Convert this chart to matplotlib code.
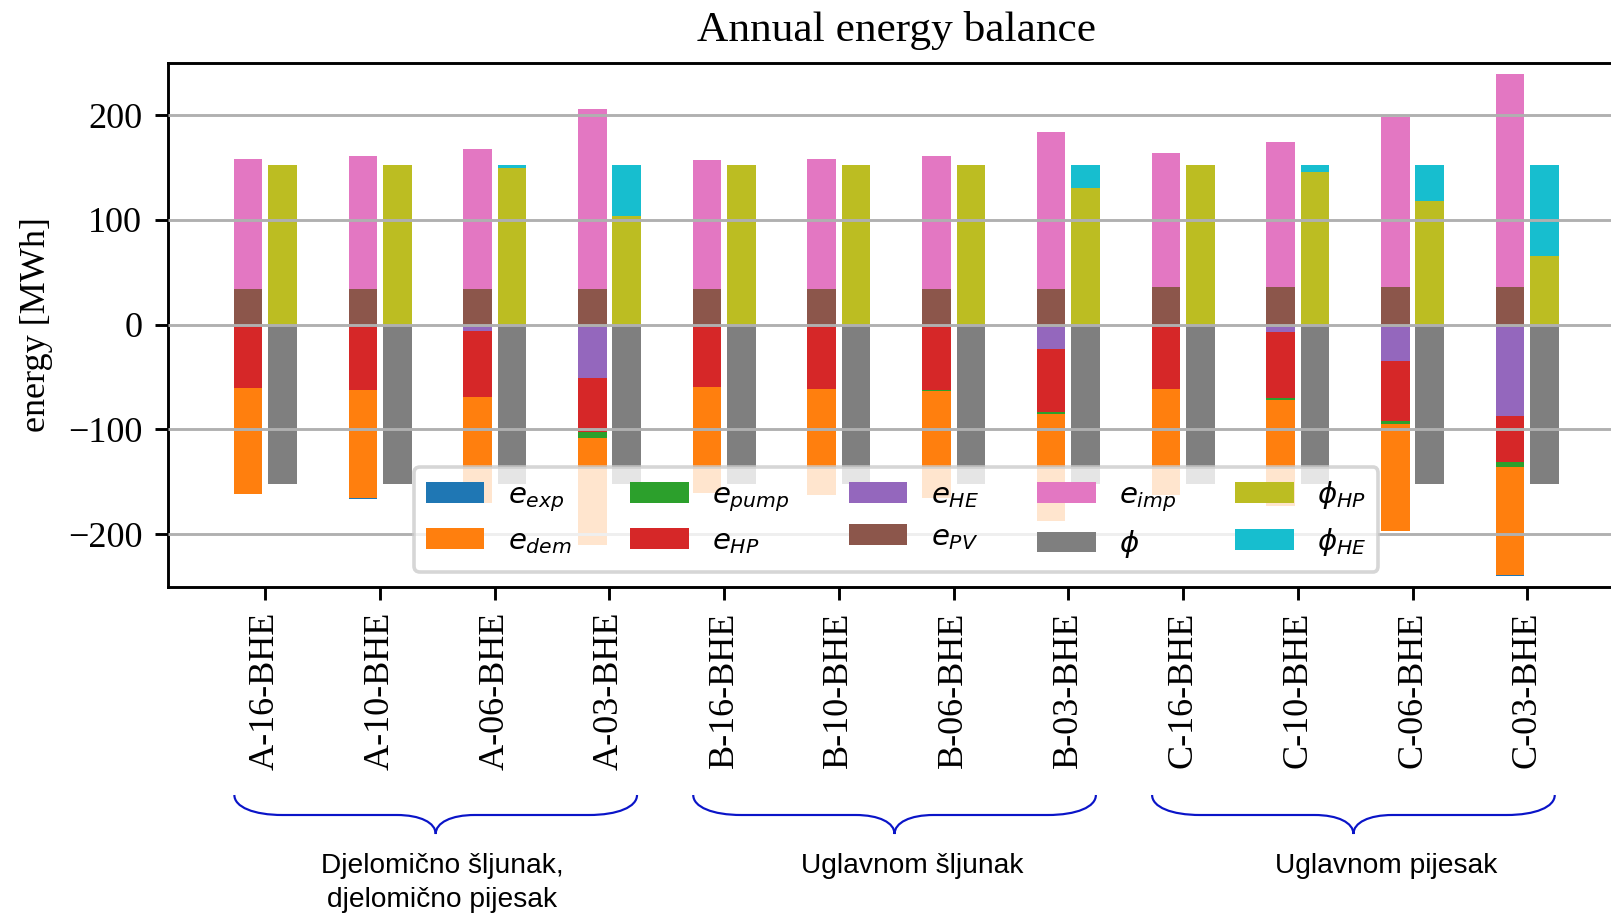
import matplotlib
matplotlib.use("Agg")
import matplotlib.pyplot as plt
import numpy as np
from matplotlib.path import Path
from matplotlib.patches import PathPatch
from matplotlib.transforms import blended_transform_factory

plt.rcParams["font.family"] = "serif"
plt.rcParams["font.serif"] = ["Liberation Serif", "DejaVu Serif"]

cases = ["A-16-BHE", "A-10-BHE", "A-06-BHE", "A-03-BHE",
         "B-16-BHE", "B-10-BHE", "B-06-BHE", "B-03-BHE",
         "C-16-BHE", "C-10-BHE", "C-06-BHE", "C-03-BHE"]

# energy terms [MWh]
e_exp = [0.0, 0.6, 0.0, 0.0, 0.0, 0.0, 0.0, 0.0, 0.0, 0.0, 0.0, 0.8]
e_dem = [101.3, 102.9, 100.8, 101.9, 101.0, 101.0, 102.0, 101.9, 101.0, 101.9, 102.3, 103.2]
e_pump = [0.3, 0.3, 0.5, 5.7, 0.3, 0.3, 0.3, 1.9, 0.3, 1.5, 3.1, 5.0]
e_hp = [60.1, 62.3, 62.4, 51.8, 59.5, 61.0, 62.7, 59.8, 61.0, 62.7, 56.7, 43.7]
e_he = [0.0, 0.0, 6.3, 51.0, 0.0, 0.0, 0.0, 23.4, 0.0, 7.3, 35.1, 87.3]
e_pv = [34.5, 34.5, 34.5, 34.5, 34.5, 34.5, 34.5, 34.5, 35.5, 35.5, 35.5, 35.5]
e_imp = [123.7, 126.3, 132.9, 171.2, 122.5, 123.7, 126.3, 149.4, 128.1, 139.2, 162.9, 203.4]
phi = [152.0] * 12
phi_hp = [152.0, 152.0, 149.4, 103.8, 152.0, 152.0, 152.0, 130.7, 152.0, 145.6, 118.0, 65.5]
phi_he = [0.0, 0.0, 2.6, 48.2, 0.0, 0.0, 0.0, 21.3, 0.0, 6.4, 34.0, 86.5]

groups = [("Djelomično šljunak,", "djelomično pijesak"), ("Uglavnom šljunak",), ("Uglavnom pijesak",)]
group_idx = [(0, 3), (4, 7), (8, 11)]
group_text_x = [1.54, 5.64, 9.77]

fig = plt.figure(figsize=(1611 / 260, 915 / 260), dpi=260)
ax = fig.add_axes([0.104, 0.3588, 0.9047, 0.5727])

x = np.arange(len(cases))
w = 0.25
xl = x - 0.15
xr = x + 0.15

he = np.array(e_he)
hp = np.array(e_hp)
pump = np.array(e_pump)
dem = np.array(e_dem)

ax.bar(xl, -np.array(e_exp), w, bottom=-(he + hp + pump + dem), label=r"$e_{exp}$", lw=0)
ax.bar(xl, -dem, w, bottom=-(he + hp + pump), label=r"$e_{dem}$", lw=0)
ax.bar(xl, -pump, w, bottom=-(he + hp), label=r"$e_{pump}$", lw=0)
ax.bar(xl, -hp, w, bottom=-he, label=r"$e_{HP}$", lw=0)
ax.bar(xl, -he, w, label=r"$e_{HE}$", lw=0)
ax.bar(xl, e_pv, w, label=r"$e_{PV}$", lw=0)
ax.bar(xl, e_imp, w, bottom=e_pv, label=r"$e_{imp}$", lw=0)
ax.bar(xr, -np.array(phi), w, label=r"$\phi$", lw=0)
ax.bar(xr, phi_hp, w, label=r"$\phi_{HP}$", lw=0)
ax.bar(xr, phi_he, w, bottom=phi_hp, label=r"$\phi_{HE}$", lw=0)

ax.set_ylim(-250, 250)
ax.set_xticks(x)
ax.set_xticklabels(cases, rotation=90)
ax.set_ylabel("energy [MWh]")
ax.set_title("Annual energy balance")
ax.set_axisbelow(False)
ax.grid(axis="y")
ax.legend(loc="lower center", ncol=5, fontsize=8.1)

# curly braces + group names below the tick labels
tr = blended_transform_factory(ax.transData, fig.transFigure)
y_top = 1 - 795 / 915
y_mid = 1 - 815 / 915
y_tip = 1 - 834 / 915
for (i0, i1), names, tx in zip(group_idx, groups, group_text_x):
    x0 = i0 - 0.27
    x1 = i1 + 0.24
    xc = (x0 + x1) / 2
    d = 0.42
    dc = 0.34
    hy = y_top - y_mid
    ty = y_mid - y_tip
    verts = [(x0, y_top), (x0, y_top - 0.6 * hy), (x0 + 0.4 * d, y_mid), (x0 + d, y_mid),
             (xc - dc, y_mid),
             (xc - 0.4 * dc, y_mid), (xc, y_mid - 0.4 * ty), (xc, y_tip),
             (xc, y_mid - 0.4 * ty), (xc + 0.4 * dc, y_mid), (xc + dc, y_mid),
             (x1 - d, y_mid),
             (x1 - 0.4 * d, y_mid), (x1, y_top - 0.6 * hy), (x1, y_top)]
    codes = [Path.MOVETO, Path.CURVE4, Path.CURVE4, Path.CURVE4,
             Path.LINETO,
             Path.CURVE4, Path.CURVE4, Path.CURVE4,
             Path.CURVE4, Path.CURVE4, Path.CURVE4,
             Path.LINETO,
             Path.CURVE4, Path.CURVE4, Path.CURVE4]
    fig.add_artist(PathPatch(Path(verts, codes), transform=tr, fill=False,
                             edgecolor="#0a14c8", lw=0.6, clip_on=False))
    for k, name in enumerate(names):
        fig.text(tx, 1 - (873 + 34 * k) / 915, name, transform=tr, ha="center", va="baseline",
                 fontsize=7.8, family="Liberation Sans")

fig.savefig("out.png", dpi=260)
